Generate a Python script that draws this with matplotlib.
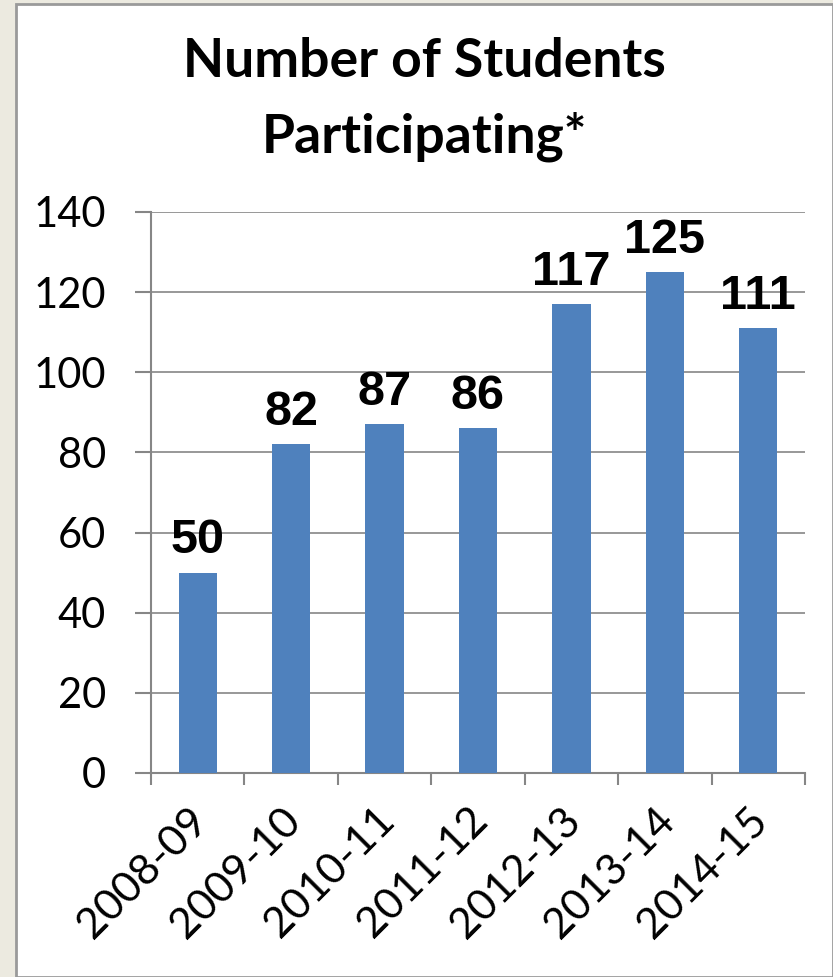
import matplotlib.pyplot as plt
from matplotlib.patches import Rectangle
from matplotlib.transforms import ScaledTranslation
import numpy as np

years = ['2008-09', '2009-10', '2010-11', '2011-12', '2012-13', '2013-14', '2014-15']
students = [50, 82, 87, 86, 117, 125, 111]

W, H = 833, 977
fig = plt.figure(figsize=(W / 100, H / 100), dpi=100, facecolor='#ECEAE0')

# white panel with grey frame
fig.patches.append(Rectangle((16 / W, 0), 1 - 16 / W, 1 - 4 / H, transform=fig.transFigure,
                             facecolor='white', edgecolor='#9A9A9A', linewidth=2, zorder=-5))

ax = fig.add_axes([151 / W, 1 - 773 / H, (805 - 151) / W, (773 - 212) / H])
ax.patch.set_alpha(0)

x = np.arange(len(years))
ax.bar(x, students, width=0.41, color='#4F81BD', zorder=3)

for xi, v in zip(x, students):
    ax.annotate(str(v), (xi, v), xytext=(0, 14), textcoords='offset points',
                ha='center', va='baseline', fontsize=35, fontweight='bold',
                family='Liberation Sans', zorder=4)

ax.set_xlim(-0.5, len(years) - 0.5)
ax.set_ylim(0, 140)
ax.set_yticks(range(0, 141, 20))
ax.yaxis.grid(True, color='#868686', linewidth=1.2, zorder=0)

for s in ['top', 'right']:
    ax.spines[s].set_visible(False)
for s in ['left', 'bottom']:
    ax.spines[s].set_color('#868686')
    ax.spines[s].set_linewidth(1.5)

ax.tick_params(axis='y', length=11.5, width=1.5, color='#868686', labelsize=30, pad=21)
ax.set_xticks(x)
ax.set_xticklabels(years, rotation=45, ha='right', rotation_mode='anchor', fontsize=31)
ax.tick_params(axis='x', which='major', length=0, pad=20)
ax.set_xticks(np.arange(-0.5, len(years)), minor=True)
ax.tick_params(axis='x', which='minor', length=8.6, width=1.5, color='#868686')
shift = ScaledTranslation(-10 / 100, 0, fig.dpi_scale_trans)
for lab in ax.get_xticklabels():
    lab.set_transform(lab.get_transform() + shift)
for lab in ax.get_yticklabels() + ax.get_xticklabels():
    lab.set_family('Lato')

fig.text(424 / W, 1 - 77 / H, 'Number of Students', ha='center', va='baseline',
         fontsize=38.5, fontweight='bold', family='Lato')
fig.text(424 / W, 1 - 152 / H, 'Participating*', ha='center', va='baseline',
         fontsize=38.5, fontweight='bold', family='Lato')

fig.savefig('out.png', dpi=100, facecolor=fig.get_facecolor())
